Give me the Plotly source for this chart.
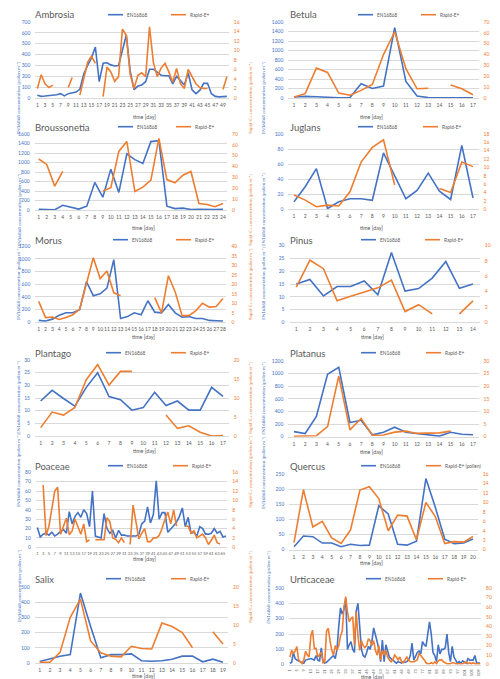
import plotly.graph_objects as go

W, H = 500, 679
BLUE = "#4472C4"
ORANGE = "#ED7D31"
GREY = "#595959"
GRID = "#D9D9D9"
FONT = "Lato"

N = None

# ---------------- data ----------------
names = ["Ambrosia", "Betula", "Broussonetia", "Juglans", "Morus", "Pinus",
         "Plantago", "Platanus", "Poaceae", "Quercus", "Salix", "Urticaceae"]

ambrosia_en = [25, 15, 18, 20, 25, 30, 40, 20, 40, 45, 55, 80, 220, 300, 370, 470, 150, 320, 325, 305,
               295, 300, 450, 580, 250, 77, 110, 120, 150, 265, 265, 240, 210, 205, 205, 130, 200, 160, 120, 230,
               75, 40, 70, 135, 135, 40, 15, 10, 12, 15]
ambrosia_ra = [2.0, 4.9, 3.0, 2.2, 2.7, N, N, N, 2.2, 4.3, N, 0.6, 4.0, 7.5, 8.8, 7.3, N, 0.3, 6.5, 5.5,
               3.5, 4.5, 14.5, 13.2, 5.0, 2.0, 4.8, 5.3, 4.5, 15.0, 7.5, 4.5, 6.3, 7.3, 5.5, 3.3, 6.2, 3.0, 2.0, 6.0,
               4.5, 3.0, 2.2, 2.0, 2.0, N, N, N, 1.8, 4.5]

betula_en = [20, 35, 25, 10, 5, 10, 300, 200, 250, 1480, 350, 40, 10, 5, 5, 5, 5]
betula_ra = [1, 4, 27.5, 23.5, 4.5, 2.5, 7, 12.5, 40, 61, 27, 8.5, 9, N, 12, 8.5, 3]

brous_en = [15, 15, 5, 100, 60, 20, 80, 580, 270, 860, 370, 1180, 1060, 980, 1440, 1460, 80, 30, 40, 10,
            15, 5, 10, 15]
brous_ra = [47, 42, 22, 35.5, N, N, N, N, 17.5, 20.5, 54, 63, 17, 21, 27.5, 66, 28, 25, 32, 35.5,
            6, 5, 3, 6]

juglans_en = [10, 30, 54, 1, 10, 14, 14, 12, 75, 45, 14, 25, 48, 24, 13, 85, 15]
juglans_ra = [3.4, 2.2, 0.6, 1.0, 0.8, 4.2, 11.3, 14.8, 16.6, 5.8, N, N, N, 5.0, 4.0, 11.3, 10.2]

morus_en = [30, 20, 50, 110, 150, 150, 200, 640, 420, 450, 540, 990, 60, 90, 150, 120, 340, 160, 150, 280,
            150, 80, 90, 60, 60, 30, 25, 20]
morus_ra = [11, 2.5, 2.8, 1.5, 2.5, 4, 7, 20, 34, 23, 27, 15.5, 14, N, N, N, N, 13, 5, 24.5,
            16, 3.5, 3.5, 6, 10, 8, 8.3, 12.5]

pinus_en = [15, 16.8, 10.3, 14, 14, 16.2, 10.8, 27.3, 12.2, 13.2, 17.3, 23.8, 13.3, 15]
pinus_ra = [4.6, 8.1, 7, 2.8, 3.4, 3.9, 4.5, 5.5, 1.4, 2.3, 1.1, N, 1.1, 2.8]

plantago_en = [13.8, 18, 14.8, 11.8, 19.2, 25, 15.6, 14.3, 10.2, 11.2, 17.3, 12, 13.8, 10.2, 10.2, 19.2, 15.6]
plantago_ra = [2.2, 6.3, 5.5, 7.5, 14.8, 18.8, 13.4, 17, 17, N, N, 5.5, 2, 2.7, 1, 0, 0.1]

platanus_en = [80, 50, 320, 990, 1100, 225, 260, 30, 70, 150, 70, 50, 20, 10, 70, 40, 30]
platanus_ra = [0.2, 0.2, 0.4, 4, 24, 2.7, 7.2, 0.6, 0.7, 1.8, 2.2, 1.3, 1.5, 1.5, 2.2, N, N]

poaceae_en = [21, 11, 14, 15, 13, 16, 12, 14, 17, 19, 15, 38, 25, 33, 37, 32, 40, 36, 22, 60,
              12, 11, 10, 36, 20, 15, 18, 10, 18, 13, 13, 12, 12, 12, 12, 14, 25, 28, 43, 26,
              35, 71, 30, 37, 37, 16, 19, 23, 27, 33, 42, 22, 32, 15, 16, 12, 22, 20, 14, 14,
              15, 20, 15, 17, 11, 12]
poaceae_ra = [N, N, 13.3, 2.5, 4.5, 8.5, 12, 12.8, 2.8, 4.5, 6.2, 2.7, 3.5, 6, 4.2, 2.8, 5, 1.2, 1.6, N,
              1.6, 1.6, 1.5, 1.6, 6.3, 5.5, 2, 1.7, 1, 2, 1, N, 0.6, 9, 5.5, 1.8, 3, 4, 1.2, 1.2,
              2, 2, 2.5, 4, 6, 7.5, 5, 8, 4.5, N, N, 4.5, 4.5, 3, 3.5, 2, 2.5, 2.8, 2, 0.6,
              1.5, 2.6, 1, 0.7, N, N]

quercus_en = [10, 45, 43, 22, 22, 10, 18, 14, 15, 145, 118, 18, 15, 28, 235, 140, 35, 20, 22, 35]
quercus_ra = [1.5, 12.7, 4.8, 6, 2.5, 1.3, 4.2, 12.6, 13.3, 10.8, 4, 7.3, 7.1, 2.1, 10, 7, 1.3, 1.7, 1.6, 2.8]

salix_en = [10, 30, 45, 55, 460, 240, 35, 55, 55, 60, 15, 12, 15, 25, 45, 45, 8, 25, 5]
salix_ra = [0.2, 0.2, 2.8, 12, 16.8, 5.8, 2.7, 1.8, 1.6, 4.4, 3.8, 3.7, 10.5, 9.6, 8, 4, N, 8.2, 5]

urtic_en = [10, 15, 80, 40, 30, 25, 20, 15, 10, 30, 35, 40, 40, 35, 30, 60, 30, 25, 110, 20,
            10, 15, 25, 35, 45, 60, 40, 100, 250, 370, 330, 360, 430, 100, 130, 150, 100, 80, 350, 400,
            250, 100, 60, 50, 80, 120, 100, 150, 240, 200, 150, 100, 20, 160, 20, 130, 80, 50, 40, 30,
            20, 10, 20, 15, 10, 20, 15, 20, 30, 60, 140, 30, 60, 80, 90, 70, 150, 130, 120, 220,
            280, 200, 80, 60, 20, 130, 70, 100, 100, 110, 200, 80, 20, 120, 50, 30, 10, 20, 10, 25,
            15, 10, 40, 30, 30, 30, 60, 10, 10, 10]
urtic_ra = [8, 15, 12, 14, 19, 5, 3, 1, 5, 14, 10, 8, 30, 36, 17, 17, 8, 10, 13, 2,
            3, 35, 38, 25, 15, 10, 20, 15, 20, 30, 35, 60, 71, 55, 45, 48, 50, 20, 55, 30,
            15, 25, 20, 18, 20, 27, 25, 20, 25, 15, 10, 20, 5, 15, 10, 15, 8, 5, 3, 5,
            10, 8, 5, 8, 3, 2, 5, 8, 5, 3, 3, 3, 4, 5, 12, 10, 8, 5, 2, 1,
            1, 2, 1, 3, 1, 4, 5, 5, 3, 2, 1, 1, 1, 2, 2, 1, 1, 1, 1, 1,
            2, 3, 1, 2, 1, 2, 1, 1, 1, 1]

en_series = [ambrosia_en, betula_en, brous_en, juglans_en, morus_en, pinus_en,
             plantago_en, platanus_en, poaceae_en, quercus_en, salix_en, urtic_en]
ra_series = [ambrosia_ra, betula_ra, brous_ra, juglans_ra, morus_ra, pinus_ra,
             plantago_ra, platanus_ra, poaceae_ra, quercus_ra, salix_ra, urtic_ra]

left_max = [700, 1600, 1600, 100, 1200, 30, 30, 1200, 80, 250, 500, 500]
left_dtick = [100, 200, 200, 20, 200, 5, 5, 200, 10, 50, 100, 100]
right_max = [16, 70, 70, 18, 40, 10, 20, 30, 16, 16, 20, 80]
right_dtick = [2, 10, 10, 2, 5, 2, 5, 5, 2, 2, 5, 10]
x_step = [2, 1, 1, 1, 1, 1, 1, 1, 2, 1, 1, 4]
ra_labels = ["Rapid-E+"] * 9 + ["Rapid-E+ (pollen)"] + ["Rapid-E+"] * 2
en_label = "EN16868"
y_title_left = "EN16868 concentration [pollen m⁻³]"
y_title_right = "Rapid-E+ concentration [pollen m⁻³]"
x_title = "time [day]"

# ---------------- layout geometry (pixels) ----------------
row_y = [0, 112, 225, 338, 451, 564]
plot_lr = [(27.4, 220.8), (30.4, 220.6), (26.7, 219.0), (30.4, 220.6), (27.3, 218.4), (31.5, 221.8),
           (27.0, 220.7), (30.4, 220.6), (27.9, 219.3), (31.3, 219.7), (26.6, 220.1), (31.0, 223.0)]
plot_tb = [(14, 90), (14, 90), (14, 90), (14, 89.3), (13.3, 89.3), (12.7, 89.3),
           (14, 90), (15, 90.7), (13.3, 88.3), (15, 90.7), (15, 91), (16, 92.7)]
xtitle_y = [104.5, 104.5, 104.5, 104.5, 104, 104, 104.5, 105.5, 103.5, 107.5, 108, 109]
xtick_size = [5, 5, 5, 5, 5, 5, 5, 5, 4.1, 5, 5, 4]
legend_x = [(100, 163), (100, 163), (110, 168), (100, 165), (105, 168), (103, 167),
            (98, 163), (103, 168), (100, 165), (103, 168), (98, 163), (108, 170)]


def fx(x):
    return x / W


def fy(y):
    return 1 - y / H


fig = go.Figure()
layout = dict(width=W, height=H, margin=dict(l=0, r=0, t=0, b=0),
              paper_bgcolor="white", plot_bgcolor="white", showlegend=False,
              font=dict(family=FONT, color=GREY))
annotations = []
shapes = []

for p in range(12):
    r, c = divmod(p, 2)
    ox, oy = c * 250, row_y[r]
    en, ra = en_series[p], ra_series[p]
    n = len(en)
    days = list(range(1, n + 1))
    xa = "x" if p == 0 else f"x{p + 1}"
    ya1 = "y" if p == 0 else f"y{2 * p + 1}"
    ya2 = f"y{2 * p + 2}"

    fig.add_trace(go.Scatter(x=days, y=en, mode="lines", name=en_label,
                             line=dict(color=BLUE, width=1.6), xaxis=xa, yaxis=ya1))
    fig.add_trace(go.Scatter(x=days, y=ra, mode="lines", name=ra_labels[p],
                             line=dict(color=ORANGE, width=1.6), xaxis=xa, yaxis=ya2))

    L, R = plot_lr[p]
    T, B = plot_tb[p]
    tv = days[::x_step[p]]
    layout["xaxis" if p == 0 else f"xaxis{p + 1}"] = dict(
        domain=[fx(ox + L), fx(ox + R)], anchor=ya1, range=[0.5, n + 0.5],
        tickmode="array", tickvals=tv, ticktext=[str(v) for v in tv],
        tickfont=dict(size=xtick_size[p], color=GREY, family=FONT), tickangle=-90 if p == 11 else 0,
        showgrid=False, zeroline=False, showline=True, linecolor=GRID, linewidth=0.8,
        ticks="", ticklabelstandoff=2, automargin=False, fixedrange=True)
    layout["yaxis" if p == 0 else f"yaxis{2 * p + 1}"] = dict(
        domain=[fy(oy + B), fy(oy + T)], anchor=xa, range=[0, left_max[p]], dtick=left_dtick[p],
        tickfont=dict(size=5, color=BLUE, family=FONT), showgrid=True, gridcolor=GRID, gridwidth=0.8,
        zeroline=False, showline=False, ticks="", ticklabelstandoff=4, automargin=False, fixedrange=True)
    layout[f"yaxis{2 * p + 2}"] = dict(
        domain=[fy(oy + B), fy(oy + T)], anchor=xa, overlaying=ya1, side="right",
        range=[0, right_max[p]], dtick=right_dtick[p],
        tickfont=dict(size=5, color=ORANGE, family=FONT), showgrid=False, zeroline=False,
        showline=False, ticks="", ticklabelstandoff=4, automargin=False, fixedrange=True)

    # panel title
    annotations.append(dict(x=fx(ox + (25 if c == 0 else 30)), y=fy(oy + 7), xref="paper", yref="paper",
                            text=names[p], showarrow=False, xanchor="left", yanchor="middle",
                            font=dict(size=9.5, color=GREY, family=FONT)))
    # axis titles
    annotations.append(dict(x=fx(ox + (10 if p == 11 else 5)), y=fy(oy + (T + B) / 2), xref="paper",
                            yref="paper", text=y_title_left, showarrow=False, textangle=-90,
                            font=dict(size=4.6, color=BLUE, family=FONT)))
    annotations.append(dict(x=fx(ox + 242), y=fy(oy + (T + B) / 2), xref="paper", yref="paper",
                            text=y_title_right, showarrow=False, textangle=-90,
                            font=dict(size=4.6, color=ORANGE, family=FONT)))
    annotations.append(dict(x=fx(ox + (L + R) / 2), y=fy(oy + xtitle_y[p]), xref="paper",
                            yref="paper", text=x_title, showarrow=False, borderpad=0,
                            font=dict(size=5.3, color=GREY, family=FONT)))
    # legend
    lb, lo = legend_x[p]
    for x0, col, txt in [(lb, BLUE, en_label), (lo, ORANGE, ra_labels[p])]:
        shapes.append(dict(type="line", xref="paper", yref="paper", x0=fx(ox + x0), x1=fx(ox + x0 + 15),
                           y0=fy(oy + 6.7), y1=fy(oy + 6.7), line=dict(color=col, width=1.6)))
        annotations.append(dict(x=fx(ox + x0 + 17), y=fy(oy + 6.7), xref="paper", yref="paper",
                                text=txt, showarrow=False, xanchor="left", yanchor="middle",
                                font=dict(size=4.8, color=GREY, family=FONT)))

layout["annotations"] = annotations
layout["shapes"] = shapes
fig.update_layout(**layout)
fig.write_html("out.html")
